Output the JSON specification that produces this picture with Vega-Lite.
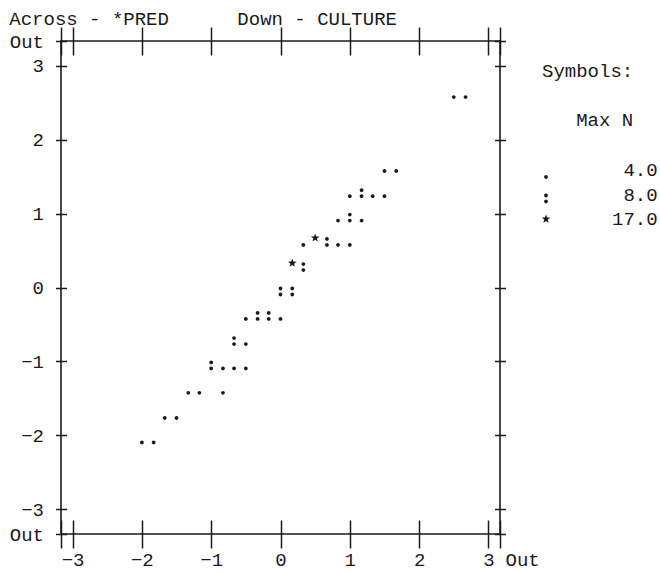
{
  "$schema": "https://vega.github.io/schema/vega-lite/v6.json",
  "width": 439,
  "height": 493,
  "autosize": {"type": "none"},
  "padding": {"left": 61, "top": 41, "right": 160, "bottom": 38},
  "background": "white",
  "config": {
    "font": "Liberation Mono",
    "view": {"stroke": "#1a1a1a", "strokeWidth": 1.6},
    "axis": {"grid": false, "domain": false, "title": null, "tickColor": "#1a1a1a", "tickWidth": 1.5, "labelFont": "Liberation Mono", "labelFontSize": 19, "labelColor": "#1a1a1a", "labelOverlap": false, "labelFlush": false, "labelBound": false}
  },
  "title": {
    "text": "Across - *PRED\u00a0\u00a0\u00a0\u00a0\u00a0\u00a0Down - CULTURE",
    "anchor": "start",
    "frame": "bounds",
    "font": "Liberation Mono",
    "fontSize": 19,
    "fontWeight": "normal",
    "color": "#1a1a1a",
    "baseline": "alphabetic",
    "offset": -18
  },
  "data": {
    "values": [
      {"x": -2.0, "y": -2.0, "symbol": "."},
      {"x": -1.83, "y": -2.0, "symbol": "."},
      {"x": -1.67, "y": -1.67, "symbol": "."},
      {"x": -1.5, "y": -1.67, "symbol": "."},
      {"x": -1.33, "y": -1.33, "symbol": "."},
      {"x": -1.17, "y": -1.33, "symbol": "."},
      {"x": -0.83, "y": -1.33, "symbol": "."},
      {"x": -1.0, "y": -1.0, "symbol": ":"},
      {"x": -0.83, "y": -1.0, "symbol": "."},
      {"x": -0.67, "y": -1.0, "symbol": "."},
      {"x": -0.5, "y": -1.0, "symbol": "."},
      {"x": -0.67, "y": -0.67, "symbol": ":"},
      {"x": -0.5, "y": -0.67, "symbol": "."},
      {"x": -0.5, "y": -0.33, "symbol": "."},
      {"x": -0.33, "y": -0.33, "symbol": ":"},
      {"x": -0.17, "y": -0.33, "symbol": ":"},
      {"x": 0.0, "y": -0.33, "symbol": "."},
      {"x": 0.0, "y": 0.0, "symbol": ":"},
      {"x": 0.17, "y": 0.0, "symbol": ":"},
      {"x": 0.17, "y": 0.33, "symbol": "*"},
      {"x": 0.33, "y": 0.33, "symbol": ":"},
      {"x": 0.33, "y": 0.67, "symbol": "."},
      {"x": 0.5, "y": 0.67, "symbol": "*"},
      {"x": 0.67, "y": 0.67, "symbol": ":"},
      {"x": 0.83, "y": 0.67, "symbol": "."},
      {"x": 1.0, "y": 0.67, "symbol": "."},
      {"x": 0.83, "y": 1.0, "symbol": "."},
      {"x": 1.0, "y": 1.0, "symbol": ":"},
      {"x": 1.17, "y": 1.0, "symbol": "."},
      {"x": 1.0, "y": 1.33, "symbol": "."},
      {"x": 1.17, "y": 1.33, "symbol": ":"},
      {"x": 1.33, "y": 1.33, "symbol": "."},
      {"x": 1.5, "y": 1.33, "symbol": "."},
      {"x": 1.5, "y": 1.67, "symbol": "."},
      {"x": 1.67, "y": 1.67, "symbol": "."},
      {"x": 2.5, "y": 2.67, "symbol": "."},
      {"x": 2.67, "y": 2.67, "symbol": "."}
    ]
  },
  "layer": [
    {
      "mark": {"type": "point", "filled": true, "color": "#1a1a1a", "opacity": 1, "size": 400, "strokeWidth": 0},
      "encoding": {
        "x": {
          "field": "x", "type": "quantitative",
          "scale": {"domain": [-3.1667, 3.1667], "nice": false, "zero": false},
          "axis": {
            "orient": "bottom",
            "values": [-3.1667, -3, -2, -1, 0, 1, 2, 3, 3.1667],
            "offset": -14,
            "tickSize": 28,
            "labelPadding": 2,
            "labelExpr": "abs(datum.value) > 3.1 ? 'Out' : format(datum.value, '.0f')",
            "labelOpacity": {"condition": {"test": "datum.value < -3.1", "value": 0}, "value": 1},
            "labelAlign": {"condition": {"test": "datum.value > 3.1", "value": "left"}, "value": "center"},
            "labelOffset": {"condition": {"test": "datum.value > 3.1", "value": 5}, "value": 0}
          }
        },
        "y": {
          "field": "y", "type": "quantitative",
          "scale": {"domain": [-3.3333, 3.3333], "nice": false, "zero": false},
          "axis": {
            "orient": "left",
            "values": [-3.3333, -3, -2, -1, 0, 1, 2, 3, 3.3333],
            "offset": -5.5,
            "tickSize": 11,
            "labelPadding": 12,
            "labelExpr": "abs(datum.value) > 3.2 ? 'Out' : format(datum.value, '.0f')"
          }
        },
        "shape": {
          "field": "symbol", "type": "nominal",
          "scale": {
            "domain": [".", ":", "*"],
            "range": [
              "M-0.19,0.7a0.19,0.19 0 1,0 0.38,0a0.19,0.19 0 1,0 -0.38,0Z",
              "M-0.19,0.1a0.19,0.19 0 1,0 0.38,0a0.19,0.19 0 1,0 -0.38,0ZM-0.19,0.7a0.19,0.19 0 1,0 0.38,0a0.19,0.19 0 1,0 -0.38,0Z",
              "M0,-0.45L0.112,-0.154L0.428,-0.139L0.181,0.059L0.265,0.364L0,0.19L-0.265,0.364L-0.181,0.059L-0.428,-0.139L-0.112,-0.154Z"
            ]
          },
          "legend": {
            "orient": "none",
            "legendX": 481,
            "legendY": 21,
            "padding": 0,
            "title": ["Symbols:", "\u200b\u00a0\u00a0\u00a0Max N"],
            "titleFont": "Liberation Mono",
            "titleFontSize": 19,
            "titleFontWeight": "normal",
            "titleColor": "#1a1a1a",
            "titleLineHeight": 49,
            "titlePadding": 30,
            "labelFont": "Liberation Mono",
            "labelFontSize": 19,
            "labelColor": "#1a1a1a",
            "labelExpr": "datum.value === '.' ? '\u200b\u00a04.0' : (datum.value === ':' ? '\u200b\u00a08.0' : '17.0')",
            "labelOffset": 56,
            "labelLimit": 200,
            "symbolSize": 400,
            "symbolOffset": -6,
            "symbolFillColor": "#1a1a1a",
            "symbolStrokeColor": "#1a1a1a",
            "symbolStrokeWidth": 0,
            "rowPadding": 4.5
          }
        }
      }
    },
    {
      "mark": {"type": "point", "opacity": 0},
      "encoding": {
        "x": {
          "field": "x", "type": "quantitative",
          "scale": {"domain": [-3.1667, 3.1667], "nice": false, "zero": false},
          "axis": {
            "orient": "top",
            "values": [-3.1667, -3, -2, -1, 0, 1, 2, 3, 3.1667],
            "offset": -14,
            "tickSize": 28,
            "labels": false
          }
        },
        "y": {
          "field": "y", "type": "quantitative",
          "scale": {"domain": [-3.3333, 3.3333], "nice": false, "zero": false},
          "axis": {
            "orient": "right",
            "values": [-3.3333, -3, -2, -1, 0, 1, 2, 3, 3.3333],
            "offset": -5.5,
            "tickSize": 11,
            "labels": false
          }
        }
      }
    }
  ],
  "resolve": {"axis": {"x": "independent", "y": "independent"}}
}
